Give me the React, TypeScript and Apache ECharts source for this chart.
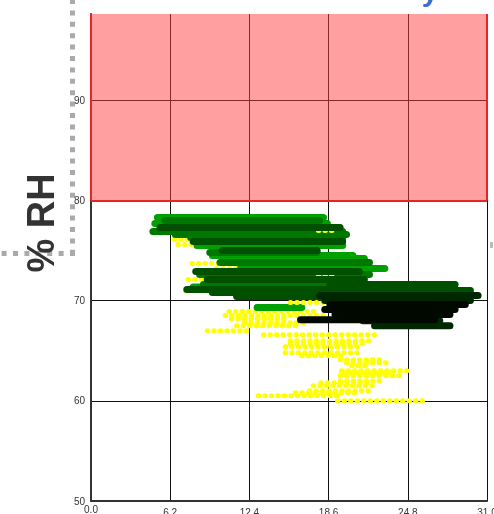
import React, { useEffect, useRef } from 'react';
import * as echarts from 'echarts';

// Axis ranges / ticks
const xRange = [0, 31];
const xInterval = 6.2;
const yRange = [50, 98.6];
const yInterval = 10;
const comfortLimit = 80; // red band lower edge (% RH)
const yAxisTitle = '% RH';

// Streaks of readings: [temperature start, temperature end, % RH]
const yellowStreaks = [
  [4.9, 7.5, 76.7],
  [6.5, 9.0, 76.1],
  [6.8, 9.0, 75.6],
  [7.9, 10.5, 73.7],
  [9.8, 12.8, 73.2],
  [7.6, 9.5, 72.1],
  [7.4, 8.5, 71.0],
  [10.8, 17.5, 68.9],
  [10.5, 18.4, 68.5],
  [11.0, 15.5, 68.2],
  [12.0, 17.0, 67.8],
  [11.4, 16.4, 67.5],
  [9.1, 12.5, 67.0],
  [13.5, 22.4, 66.6],
  [15.6, 22.1, 66.0],
  [15.6, 21.5, 65.7],
  [15.2, 21.2, 65.4],
  [15.2, 21.2, 64.8],
  [16.5, 20.0, 64.5],
  [19.5, 23.0, 64.1],
  [20.0, 23.5, 63.8],
  [20.4, 21.8, 63.5],
  [19.6, 25.1, 63.0],
  [19.8, 23.8, 62.8],
  [19.5, 24.2, 62.5],
  [19.5, 22.6, 62.0],
  [18.0, 22.0, 61.8],
  [17.4, 22.1, 61.5],
  [17.1, 21.8, 61.0],
  [16.0, 21.0, 60.8],
  [13.1, 19.7, 60.5],
  [19.3, 26.3, 60.0],
];

const greenStreaks = [
  [5.2, 18.2, 78.3],
  [5.0, 18.5, 77.7],
  [8.3, 19.7, 75.5],
  [9.5, 20.5, 74.5],
  [10.6, 21.4, 74.2],
  [11.7, 23.0, 73.2],
  [8.0, 21.5, 71.35],
  [13.0, 16.5, 69.3],
];

const midGreenStreaks = [
  [5.8, 17.9, 78.0],
  [4.85, 19.7, 76.9],
  [6.6, 20.0, 76.6],
  [7.8, 19.7, 76.3],
  [9.3, 17.7, 74.8],
  [10.1, 21.8, 73.8],
  [8.5, 21.8, 72.6],
  [8.8, 21.1, 71.6],
];

const yellowOverStreaks = [
  [17.8, 19.2, 77.0],
  [17.8, 19.3, 72.5],
  [15.6, 18.5, 69.8],
];

const darkGreenStreaks = [
  [5.4, 19.5, 77.3],
  [8.0, 19.7, 75.9],
  [10.3, 17.7, 75.0],
  [8.2, 21.0, 72.9],
  [9.1, 21.4, 72.1],
  [7.5, 21.1, 71.1],
  [9.5, 20.5, 70.8],
  [11.4, 20.3, 70.4],
  [18.7, 28.5, 71.6],
  [19.9, 29.7, 71.0],
];

const nearBlackStreaks = [
  [17.9, 30.3, 70.5],
  [18.3, 29.7, 70.0],
  [21.3, 27.3, 68.0],
  [22.2, 28.1, 67.5],
];

const blackStreaks = [
  [18.7, 29.3, 69.6],
  [18.3, 28.5, 69.1],
  [19.1, 28.1, 68.6],
  [16.4, 26.9, 68.1],
];

function streakSeries(name: string, data: number[][], color: string, width: number, dotted: boolean, z: number) {
  return {
    type: 'custom',
    name,
    data,
    z,
    encode: { x: [0, 1], y: 2 },
    clip: true,
    silent: true,
    renderItem: (_params: any, api: any) => {
      const a = api.coord([api.value(0), api.value(2)]);
      const b = api.coord([api.value(1), api.value(2)]);
      return {
        type: 'line',
        shape: { x1: a[0], y1: a[1], x2: b[0], y2: b[1] },
        style: {
          stroke: color,
          lineWidth: width,
          lineCap: 'round',
          lineDash: dotted ? [0.5, 6] : null,
          fill: null,
        },
      };
    },
  };
}

export default function App() {
  const ref = useRef<HTMLDivElement>(null);
  useEffect(() => {
    const chart = echarts.init(ref.current!, null, { renderer: 'svg' });
    const font = 'Liberation Sans, Arial, sans-serif';
    chart.setOption({
      animation: false,
      grid: { left: 91, right: 7, top: 14, bottom: 13, containLabel: false, outerBoundsMode: 'none' },
      xAxis: {
        type: 'value',
        min: xRange[0],
        max: xRange[1],
        interval: xInterval,
        axisLine: { show: true, lineStyle: { color: '#333', width: 2 } },
        axisTick: { show: false },
        axisLabel: {
          fontSize: 10,
          color: '#333',
          fontFamily: font,
          margin: 6,
          showMinLabel: true,
          showMaxLabel: true,
          formatter: (v: number) => (v === 0 ? '{u|' + v.toFixed(1) + '}' : v.toFixed(1)),
          rich: {
            u: { fontSize: 10, color: '#333', fontFamily: font, lineHeight: 4 },
          },
        },
        splitLine: { show: true, showMinLine: false, lineStyle: { color: '#111', width: 1 } },
      },
      yAxis: {
        type: 'value',
        min: yRange[0],
        max: yRange[1],
        interval: yInterval,
        axisLine: { show: true, lineStyle: { color: '#333', width: 2 } },
        axisTick: { show: false },
        axisLabel: {
          fontSize: 10,
          color: '#333',
          fontFamily: font,
          margin: 6,
          showMaxLabel: false,
          formatter: (v: number) => (v % 10 === 0 ? String(v) : ''),
        },
        splitLine: { show: true, showMinLine: false, showMaxLine: false, lineStyle: { color: '#111', width: 1 } },
      },
      series: [
        {
          type: 'scatter',
          data: [],
          silent: true,
          markArea: {
            silent: true,
            z: 1,
            itemStyle: { color: 'rgba(255,64,64,0.5)', borderWidth: 0 },
            data: [[{ coord: [xRange[0], comfortLimit] }, { coord: [xRange[1], yRange[1]] }]],
          },
          markLine: {
            silent: true,
            symbol: 'none',
            label: { show: false },
            lineStyle: { color: '#e52626', width: 2, type: 'solid' },
            data: [
              [{ coord: [xRange[0], comfortLimit] }, { coord: [xRange[1], comfortLimit] }],
              [{ coord: [xRange[0], comfortLimit] }, { coord: [xRange[0], yRange[1]] }],
              [{ coord: [xRange[1], comfortLimit] }, { coord: [xRange[1], yRange[1]] }],
            ],
          },
        },
        streakSeries('yellow', yellowStreaks, '#ffff00', 5, true, 2),
        streakSeries('green', greenStreaks, '#00a000', 7, false, 3),
        streakSeries('midgreen', midGreenStreaks, '#007800', 7, false, 3),
        streakSeries('yellowOver', yellowOverStreaks, '#ffff00', 5, true, 3),
        streakSeries('darkgreen', darkGreenStreaks, '#005000', 7, false, 4),
        streakSeries('nearblack', nearBlackStreaks, '#002800', 7, false, 4),
        streakSeries('black', blackStreaks, '#000800', 7, false, 4),
      ],
      graphic: [
        {
          type: 'line',
          silent: true,
          shape: { x1: 72.5, y1: -1, x2: 72.5, y2: 256 },
          style: { stroke: '#aaaaaa', lineWidth: 5, lineDash: [5, 6.4] },
        },
        {
          type: 'line',
          silent: true,
          shape: { x1: 75, y1: 253.5, x2: 0, y2: 253.5 },
          style: { stroke: '#aaaaaa', lineWidth: 5, lineDash: [5, 6.4] },
        },
        {
          type: 'rect',
          silent: true,
          shape: { x: 490, y: 242, width: 3, height: 6 },
          style: { fill: '#bbbbbb' },
        },
        {
          type: 'text',
          silent: true,
          x: 41,
          y: 223,
          rotation: Math.PI / 2,
          style: {
            text: yAxisTitle,
            fontSize: 38,
            fontWeight: 'bold',
            fontFamily: font,
            fill: '#333333',
            align: 'center',
            verticalAlign: 'middle',
            textAlign: 'center',
            textVerticalAlign: 'middle',
          },
        },
        {
          type: 'text',
          silent: true,
          x: 430,
          y: 5,
          style: {
            text: 'y',
            fontSize: 30,
            fontWeight: 'bold',
            fontFamily: font,
            fill: '#3a6ed0',
            align: 'center',
            verticalAlign: 'bottom',
            textAlign: 'center',
            textVerticalAlign: 'bottom',
          },
        },
      ],
    });
    return () => chart.dispose();
  }, []);
  return <div ref={ref} style={{ position: 'fixed', left: 0, top: 0, width: 494, height: 514 }} />;
}
